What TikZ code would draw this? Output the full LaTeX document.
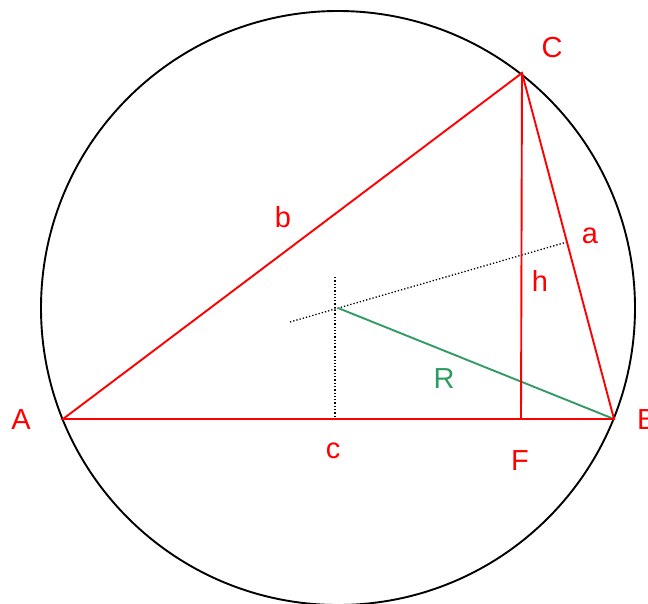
\documentclass[tikz,border=0pt]{standalone}
\usepackage{fontspec}
\setmainfont{Liberation Sans}
\definecolor{rgreen}{RGB}{50,155,100}
\begin{document}
\begin{tikzpicture}[x=1pt,y=-1pt,
  side/.style={draw=red,line width=1.9pt},
  dots/.style={draw=black,line width=1.3pt,dotted},
  lbl/.style={text=red,font=\fontsize{29}{33}\selectfont,inner sep=0pt},
  glbl/.style={text=rgreen,font=\fontsize{29}{33}\selectfont,inner sep=0pt}]
\useasboundingbox (0,0) rectangle (648,603);
\coordinate (O) at (338,308);
\coordinate (A) at (63,419);
\coordinate (B) at (614,419);
\coordinate (C) at (522,73);
\coordinate (F) at (521,419);
\coordinate (Vt) at (335,277);
\coordinate (Vb) at (335,419);
\coordinate (P1) at (290,322);
\coordinate (P2) at (567,242);
\draw[line width=1.9pt] (O) circle[radius=297];
\draw[dots] (Vt) -- (Vb);
\draw[dots] (P1) -- (P2);
\draw[draw=rgreen,line width=1.9pt] (O) -- (B);
\draw[side] (A) -- (B) -- (C) -- cycle;
\draw[side] (C) -- (F);
\node[lbl] (lA) at (21,420) {A};
\node[lbl,anchor=west] (lB) at (637,420) {B};
\node[lbl] (lC) at (552,48) {C};
\node[lbl] (la) at (590,236) {a};
\node[lbl] (lb) at (283,217) {b};
\node[lbl] (lc) at (333,451) {c};
\node[lbl] (lh) at (540,281) {h};
\node[lbl] (lF) at (520,461) {F};
\node[glbl] (lR) at (444,379) {R};
\end{tikzpicture}
\end{document}
